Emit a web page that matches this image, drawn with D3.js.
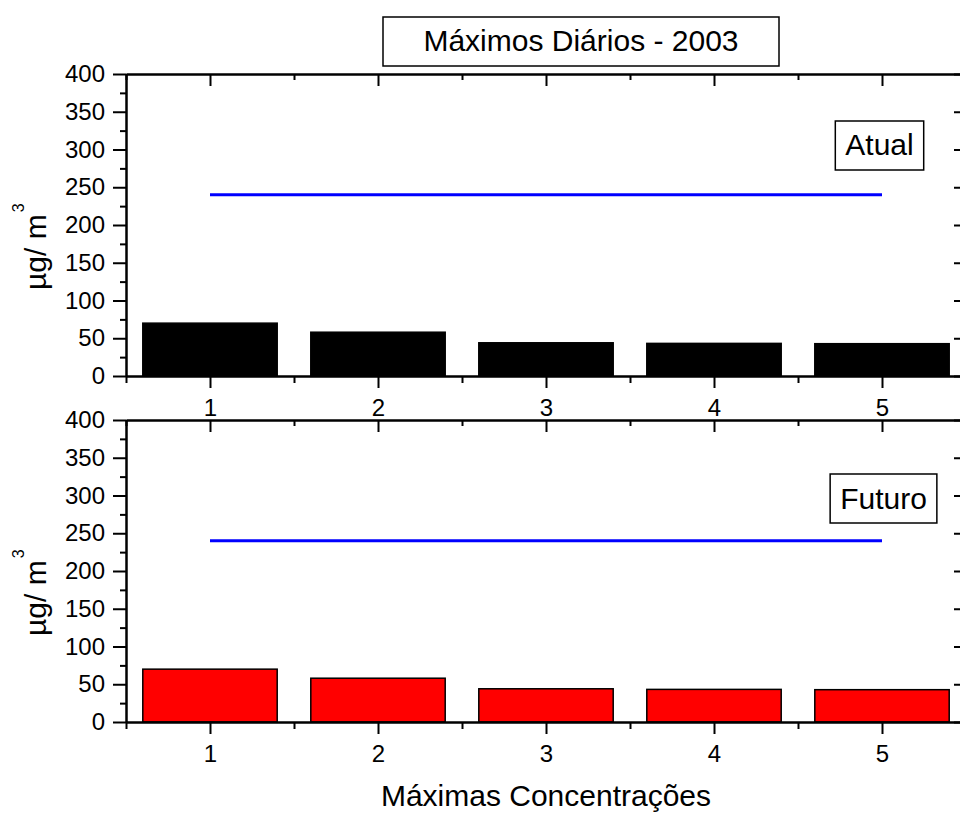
<!DOCTYPE html>
<html>
<head>
<meta charset="utf-8">
<script src="https://cdn.jsdelivr.net/npm/d3@7"></script>
<style>
  html, body { margin: 0; padding: 0; background: #fff; }
  svg { display: block; }
  text { font-family: "Liberation Sans", Arial, Helvetica, sans-serif; fill: #000; }
</style>
</head>
<body>
<svg id="chart" width="960" height="814"></svg>
<script>
// Data
const categories = [1, 2, 3, 4, 5];
const atualValues = [70, 58, 44, 43.2, 42.8];
const futuroValues = [70, 58, 44, 43.2, 42.8];
const limitValue = 240;          // reference limit drawn as a horizontal line
const yMajorTicks = [0, 50, 100, 150, 200, 250, 300, 350, 400];
const yMinorTicks = [25, 75, 125, 175, 225, 275, 325, 375];
const xMajorTicks = [1, 2, 3, 4, 5];
const xMinorTicks = [0.5, 1.5, 2.5, 3.5, 4.5, 5.5];
const titleText = "Máximos Diários - 2003";
const xTitle = "Máximas Concentrações";
const panels = [
  { name: "Atual", values: atualValues, fill: "#000000", top: 74, bottom: 376 },
  { name: "Futuro", values: futuroValues, fill: "#ff0000", top: 420, bottom: 722 }
];

const svg = d3.select("#chart");
const x = d3.scaleLinear().domain([0.5, 5.5]).range([126, 966]);
const barWidth = 0.8; // in category units
const axisStroke = 2;

function styleAxis(g) {
  g.attr("font-family", null).attr("font-size", null);
  g.selectAll("path.domain").attr("stroke", "#000").attr("stroke-width", axisStroke);
  g.selectAll(".tick line").attr("stroke", "#000").attr("stroke-width", axisStroke);
  g.selectAll(".tick text").style("font-size", "24px").attr("fill", "#000");
}

panels.forEach((p, i) => {
  const y = d3.scaleLinear().domain([0, 400]).range([p.bottom, p.top]);
  const g = svg.append("g");

  // bars
  g.selectAll("rect.bar")
    .data(categories)
    .enter().append("rect")
    .attr("class", "bar")
    .attr("x", d => x(d - barWidth / 2))
    .attr("width", d => x(d + barWidth / 2) - x(d - barWidth / 2))
    .attr("y", (d, k) => y(p.values[k]))
    .attr("height", (d, k) => y(0) - y(p.values[k]))
    .attr("fill", p.fill)
    .attr("stroke", "#000")
    .attr("stroke-width", 1.5);

  // limit line
  g.append("line")
    .attr("x1", x(categories[0]))
    .attr("x2", x(categories[categories.length - 1]))
    .attr("y1", y(limitValue))
    .attr("y2", y(limitValue))
    .attr("stroke", "#0000ff")
    .attr("stroke-width", 3);

  // left axis: majors with labels, minors without
  const left = g.append("g").attr("transform", `translate(${x(0.5)},0)`);
  left.call(d3.axisLeft(y).tickValues(yMajorTicks).tickSize(13).tickPadding(8).tickSizeOuter(0));
  styleAxis(left);
  const leftMinor = g.append("g").attr("transform", `translate(${x(0.5)},0)`);
  leftMinor.call(d3.axisLeft(y).tickValues(yMinorTicks).tickSize(6).tickFormat("").tickSizeOuter(0));
  styleAxis(leftMinor);

  // right axis: inward ticks
  const right = g.append("g").attr("transform", `translate(${x(5.5)},0)`);
  right.call(d3.axisRight(y).tickValues(yMajorTicks).tickSize(-12).tickFormat("").tickSizeOuter(0));
  styleAxis(right);
  const rightMinor = g.append("g").attr("transform", `translate(${x(5.5)},0)`);
  rightMinor.call(d3.axisRight(y).tickValues(yMinorTicks).tickSize(-6).tickFormat("").tickSizeOuter(0));
  styleAxis(rightMinor);

  // bottom axis: outward ticks with labels
  const bottom = g.append("g").attr("transform", `translate(0,${y(0)})`);
  bottom.call(d3.axisBottom(x).tickValues(xMajorTicks).tickSize(12).tickPadding(11).tickSizeOuter(0).tickFormat(d3.format("d")));
  styleAxis(bottom);
  const bottomMinor = g.append("g").attr("transform", `translate(0,${y(0)})`);
  bottomMinor.call(d3.axisBottom(x).tickValues(xMinorTicks).tickSize(7).tickFormat("").tickSizeOuter(0));
  styleAxis(bottomMinor);

  // top axis: inward ticks
  const topAx = g.append("g").attr("transform", `translate(0,${y(400)})`);
  topAx.call(d3.axisTop(x).tickValues(xMajorTicks).tickSize(-12).tickFormat("").tickSizeOuter(0));
  styleAxis(topAx);
  const topMinor = g.append("g").attr("transform", `translate(0,${y(400)})`);
  topMinor.call(d3.axisTop(x).tickValues(xMinorTicks).tickSize(-6).tickFormat("").tickSizeOuter(0));
  styleAxis(topMinor);

  // y axis title
  const yl = g.append("text")
    .attr("transform", `translate(46,${p.bottom - 86}) rotate(-90)`)
    .attr("text-anchor", "start")
    .style("font-size", "30px");
  yl.append("tspan").text("µg/ m");
  yl.append("tspan").attr("dy", -22).attr("dx", 2).style("font-size", "16px").text("3");

  // panel label box
  const lbl = g.append("g");
  const lblText = lbl.append("text")
    .attr("x", i === 0 ? 879.5 : 883.5)
    .attr("y", i === 0 ? 155 : 509)
    .attr("text-anchor", "middle")
    .style("font-size", "30px")
    .text(p.name);
  const bb = lblText.node().getBBox();
  lbl.insert("rect", "text")
    .attr("x", bb.x - 10)
    .attr("y", i === 0 ? 121 : 474)
    .attr("width", bb.width + 20)
    .attr("height", 49)
    .attr("fill", "#fff")
    .attr("stroke", "#000")
    .attr("stroke-width", 1.5);
});

// chart title in a box
svg.append("rect")
  .attr("x", 383).attr("y", 17).attr("width", 396).attr("height", 49)
  .attr("fill", "#fff").attr("stroke", "#000").attr("stroke-width", 1.5);
svg.append("text")
  .attr("x", 581).attr("y", 51)
  .attr("text-anchor", "middle")
  .style("font-size", "30px")
  .text(titleText);

// x axis title
svg.append("text")
  .attr("x", 546).attr("y", 806)
  .attr("text-anchor", "middle")
  .style("font-size", "30px")
  .text(xTitle);
</script>
</body>
</html>
